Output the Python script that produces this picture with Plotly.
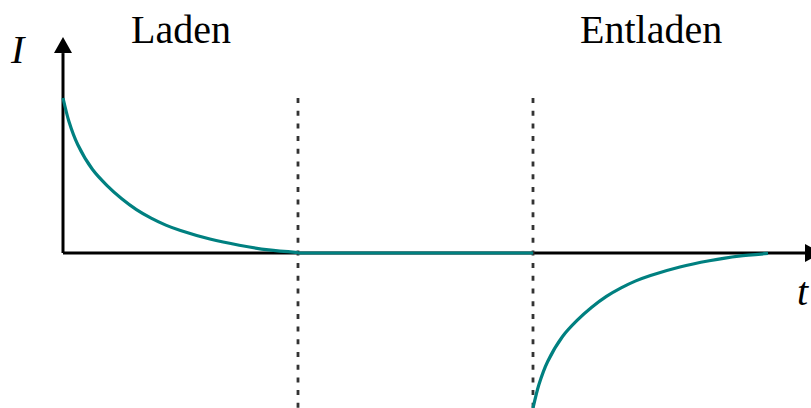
import plotly.graph_objects as go

# ---- data ----
t_charge = [0, 0.1, 0.25, 0.5, 0.75, 1.0, 1.25, 1.5, 1.75, 2.0, 2.5, 3.0, 3.5, 4.0]
i_charge = [1.0, 0.85, 0.70, 0.54, 0.435, 0.35, 0.28, 0.225, 0.18, 0.145, 0.09, 0.05, 0.02, 0.003]
t_hold = [4.0, 8.0]
i_hold = [0.0, 0.0]
t_discharge = [8.0, 8.1, 8.25, 8.5, 8.75, 9.0, 9.25, 9.5, 9.75, 10.0, 10.5, 11.0, 11.5, 12.0]
i_discharge = [-1.0, -0.85, -0.70, -0.54, -0.435, -0.35, -0.28, -0.225, -0.18, -0.145, -0.09, -0.05, -0.02, -0.003]
phase_bounds = [4.0, 8.0]
phase_labels = ["Laden", "Entladen"]
phase_label_t = [2.0, 10.0]
x_axis_label = "t"
y_axis_label = "I"

TEAL = "#008080"
X_RANGE = [-1.0723, 12.732]
Y_RANGE = [-1.0, 1.6323]
Y_ARROW_BASE = 1.29
X_ARROW_BASE = 12.63

fig = go.Figure()

# axes (drawn below curve)
fig.add_shape(type="line", x0=0, x1=0, y0=0, y1=Y_ARROW_BASE, xref="x", yref="y",
              line=dict(color="black", width=3), layer="below")
fig.add_shape(type="line", x0=0, x1=X_ARROW_BASE, y0=0, y1=0, xref="x", yref="y",
              line=dict(color="black", width=3), layer="below")
# arrowheads in pixel units anchored on the axes
fig.add_shape(type="path", xref="x", yref="y", xsizemode="pixel", ysizemode="pixel",
              xanchor=0, yanchor=Y_ARROW_BASE, path="M-9,0 L9,0 L0,16 Z",
              fillcolor="black", line=dict(color="black", width=0))
fig.add_shape(type="path", xref="x", yref="y", xsizemode="pixel", ysizemode="pixel",
              xanchor=X_ARROW_BASE, yanchor=0, path="M0,-9 L0,9 L16,0 Z",
              fillcolor="black", line=dict(color="black", width=0))

# dotted phase boundaries
for tb in phase_bounds:
    fig.add_trace(go.Scatter(x=[tb, tb], y=[1.0, Y_RANGE[0] - 0.05], mode="lines",
                             line=dict(color="#333333", width=2.8, dash="5px,7.7px"),
                             hoverinfo="skip", showlegend=False))

# current curve
curve_style = dict(color=TEAL, width=3.2, shape="spline", smoothing=0.8)
fig.add_trace(go.Scatter(x=t_charge, y=i_charge, mode="lines", line=curve_style,
                         showlegend=False))
fig.add_trace(go.Scatter(x=t_hold, y=i_hold, mode="lines",
                         line=dict(color=TEAL, width=3.2), showlegend=False))
fig.add_trace(go.Scatter(x=t_discharge, y=i_discharge, mode="lines", line=curve_style,
                         showlegend=False))

serif = "Liberation Serif, Times New Roman, serif"
for lab, tx in zip(phase_labels, phase_label_t):
    fig.add_annotation(x=tx, y=1.44, xref="x", yref="y", text=lab, showarrow=False,
                       font=dict(family=serif, size=40, color="black"),
                       xanchor="center", yanchor="middle")
fig.add_annotation(x=-0.77, y=1.316, xref="x", yref="y", text="<i>%s</i>" % y_axis_label,
                   showarrow=False, font=dict(family=serif, size=40, color="black"),
                   xanchor="center", yanchor="middle")
fig.add_annotation(x=12.6, y=-0.25, xref="x", yref="y", text="<i>%s</i>" % x_axis_label,
                   showarrow=False, font=dict(family=serif, size=40, color="black"),
                   xanchor="center", yanchor="middle")

fig.update_xaxes(range=X_RANGE, visible=False, showgrid=False, zeroline=False)
fig.update_yaxes(range=Y_RANGE, visible=False, showgrid=False, zeroline=False)
fig.update_layout(width=811, height=408, margin=dict(l=0, r=0, t=0, b=0),
                  paper_bgcolor="white", plot_bgcolor="white", showlegend=False)

fig.write_html("out.html", config={"displayModeBar": False},
               post_script="document.body.style.margin='0px';")
